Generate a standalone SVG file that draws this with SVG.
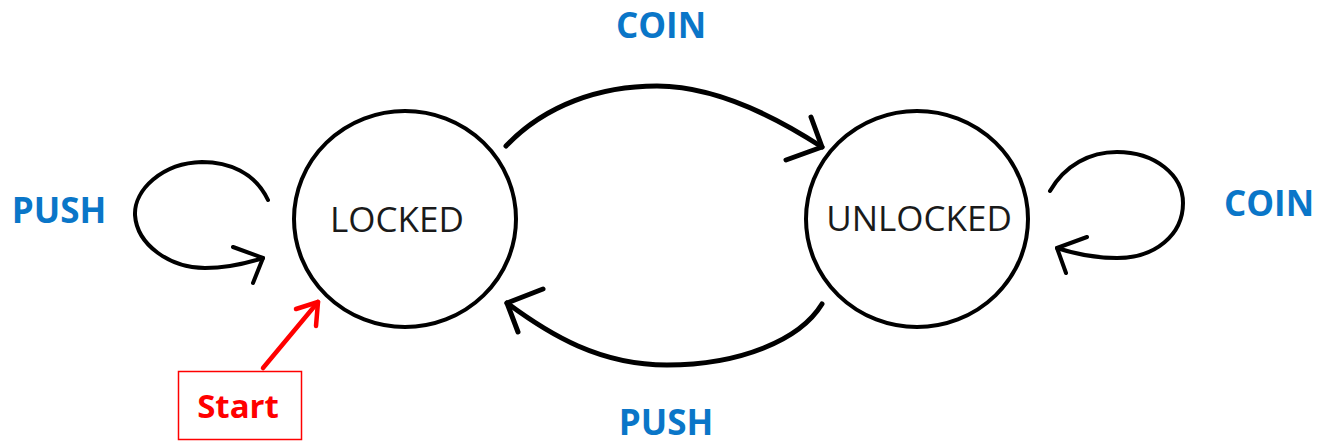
<svg xmlns="http://www.w3.org/2000/svg" width="1318" height="444" viewBox="0 0 1318 444">
  <style>
    .state { fill: #ffffff; stroke: #000000; stroke-width: 4; }
    .state-name { font-family: "Open Sans", "Liberation Sans", sans-serif; font-size: 35px; fill: #1a1a1a; text-anchor: middle; }
    .event { font-family: "Open Sans", "Liberation Sans", sans-serif; font-weight: bold; font-size: 35px; fill: #0a76c8; text-anchor: middle; }
    .edge { fill: none; stroke: #000000; stroke-linecap: round; stroke-linejoin: round; }
    .loop { stroke-width: 4; }
    .arc { stroke-width: 5; }
    .start-box { fill: #ffffff; stroke: #ff0000; stroke-width: 1.5; }
    .start-text { font-family: "Open Sans", "Liberation Sans", sans-serif; font-weight: bold; font-size: 33px; fill: #ff0000; text-anchor: middle; }
    .start-arrow { fill: none; stroke: #ff0000; stroke-width: 4.5; stroke-linecap: round; stroke-linejoin: round; }
  </style>

  <!-- transitions -->
  <g id="connectors">
    <!-- LOCKED self-loop (PUSH) -->
    <path class="edge loop" d="M268,200 C255,172 228,162 202,162 C162,163 134,190 135,215 C137,245 170,268 205,268 C230,268 248,263 263,258"/>
    <path class="edge loop" d="M233,247 L263,258 L253,283"/>
    <!-- LOCKED to UNLOCKED (COIN) -->
    <path class="edge arc" d="M506,146 C545,105 600,86 657,86 C710,86 765,110 822,147"/>
    <path class="edge arc" d="M811,117 L822,147 L786,160"/>
    <!-- UNLOCKED to LOCKED (PUSH) -->
    <path class="edge arc" d="M822,304 C800,340 740,365 667,365 C600,365 550,335 507,303"/>
    <path class="edge arc" d="M543,289 L507,303 L518,332"/>
    <!-- UNLOCKED self-loop (COIN) -->
    <path class="edge loop" d="M1050,191 C1065,165 1090,152 1117,152 C1155,152 1183,175 1183,203 C1183,235 1155,258 1117,258 C1095,258 1075,254 1057,248"/>
    <path class="edge loop" d="M1087,237 L1057,248 L1066,273"/>
    <!-- initial transition -->
    <path class="start-arrow" d="M263,368 L318,302"/>
    <path class="start-arrow" d="M296,309 L318,302 L316,326"/>
  </g>

  <g id="locked">
    <ellipse class="state" cx="405" cy="219" rx="111" ry="108"/>
    <text class="state-name" x="397" y="232">LOCKED</text>
  </g>

  <g id="unlocked">
    <ellipse class="state" cx="917" cy="219" rx="111" ry="108"/>
    <text class="state-name" x="919" y="231">UNLOCKED</text>
  </g>

  <g id="start">
    <rect class="start-box" x="178.5" y="371.5" width="123" height="68"/>
    <text class="start-text" x="238" y="418">Start</text>
  </g>

  <g id="labels">
    <text class="event" x="661" y="38">COIN</text>
    <text class="event" x="59" y="223">PUSH</text>
    <text class="event" x="666" y="435">PUSH</text>
    <text class="event" x="1269" y="216">COIN</text>
  </g>
</svg>
